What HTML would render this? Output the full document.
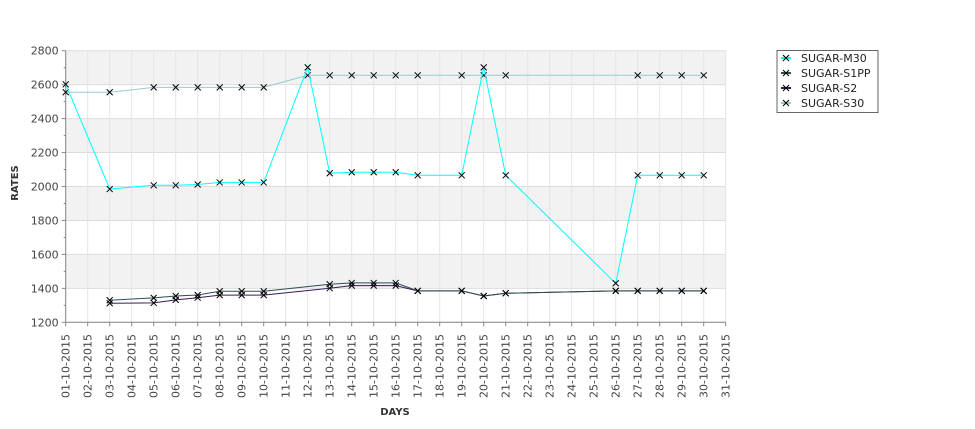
<!DOCTYPE html>
<html><head><meta charset="utf-8"><style>
html,body{margin:0;padding:0;background:#fff;}
svg{display:block;font-family:"DejaVu Sans","Liberation Sans",sans-serif;}
</style></head><body>
<svg id="chart" width="975" height="429" viewBox="0 0 975 429" xmlns="http://www.w3.org/2000/svg">
<g id="bands"></g><g id="grid"></g><g id="axes"></g><g id="series"></g>
<text x="0" y="0" transform="translate(18,183) rotate(-90)" text-anchor="middle" font-size="10" font-weight="bold" fill="#333">RATES</text>
<text x="395" y="415" text-anchor="middle" font-size="10" font-weight="bold" fill="#333">DAYS</text>
<g>
<rect x="777" y="50.5" width="101" height="62" fill="#fff" stroke="#666"/>
<g id="legend-items"></g>
</g>
</svg>
<script>
const yTicks = [1200,1400,1600,1800,2000,2200,2400,2600,2800];
const dayLabels = ["01-10-2015","02-10-2015","03-10-2015","04-10-2015","05-10-2015","06-10-2015","07-10-2015","08-10-2015","09-10-2015","10-10-2015","11-10-2015","12-10-2015","13-10-2015","14-10-2015","15-10-2015","16-10-2015","17-10-2015","18-10-2015","19-10-2015","20-10-2015","21-10-2015","22-10-2015","23-10-2015","24-10-2015","25-10-2015","26-10-2015","27-10-2015","28-10-2015","29-10-2015","30-10-2015","31-10-2015"];
const seriesNames = ["SUGAR-M30","SUGAR-S1PP","SUGAR-S2","SUGAR-S30"];
const m30Days = [1,3,5,6,7,8,9,10,12,13,14,15,16,17,19,20,21,26,27,28,29,30];
const m30Vals = [2602,1985,2007,2007,2012,2024,2024,2024,2702,2078,2084,2084,2084,2066,2066,2702,2066,1430,2066,2066,2066,2066];
const s1ppDays = [3,5,6,7,8,9,10,13,14,15,16,17,19,20,21,26,27,28,29,30];
const s1ppVals = [1330,1344,1355,1361,1383,1383,1383,1424,1432,1432,1432,1385,1385,1355,1371,1385,1385,1385,1385,1385];
const s2Days = [3,5,6,7,8,9,10,13,14,15,16,17,19,20,21,26,27,28,29,30];
const s2Vals = [1312,1314,1332,1345,1360,1360,1360,1401,1416,1416,1416,1385,1385,1355,1371,1385,1385,1385,1385,1385];
const s30Days = [1,3,5,6,7,8,9,10,12,13,14,15,16,17,19,20,21,27,28,29,30];
const s30Vals = [2555,2555,2584,2584,2584,2584,2584,2584,2655,2655,2655,2655,2655,2655,2655,2655,2655,2655,2655,2655,2655];

const NS="http://www.w3.org/2000/svg";
const X0=65.7,X1=725.7,Y0=322.3,Y1=50.7;
const xS=d=>X0+(d-1)*(X1-X0)/30;
const yS=v=>Y0-(v-1200)*(Y0-Y1)/1600;
function mk(tag,attrs,parent){const e=document.createElementNS(NS,tag);for(const k in attrs)e.setAttribute(k,attrs[k]);parent.appendChild(e);return e;}
const bands=document.getElementById('bands'),grid=document.getElementById('grid'),axes=document.getElementById('axes'),ser=document.getElementById('series');
for(let i=0;i<yTicks.length-1;i++){
  const top=yS(yTicks[i+1]),bot=yS(yTicks[i]);
  const r=mk('rect',{x:X0,y:top,width:X1-X0,height:bot-top,fill:(i%2===0)?'#ffffff':'#f2f2f2'},bands);
  
  
}
yTicks.forEach(v=>{
  const l=mk('line',{x1:X0,x2:X1,y1:yS(v),y2:yS(v),stroke:'#dddddd'},grid);
  
  
  mk('line',{x1:X0-4,x2:X0,y1:yS(v),y2:yS(v),stroke:'#888'},axes);
  const t=mk('text',{x:X0-7,y:yS(v)+4,'text-anchor':'end','font-size':'11',fill:'#444'},axes);
  t.textContent=v;
  
  
});
for(let v=1300;v<2800;v+=200){mk('line',{x1:X0-2,x2:X0,y1:yS(v),y2:yS(v),stroke:'#888'},axes);}
dayLabels.forEach((lab,i)=>{
  const x=xS(i+1);
  const l=mk('line',{x1:x,x2:x,y1:Y1,y2:Y0,stroke:'#e4e4e4'},grid);
  
  
  mk('line',{x1:x,x2:x,y1:Y0,y2:Y0+4,stroke:'#888'},axes);
  const t=mk('text',{x:0,y:0,transform:`translate(${x+4},334) rotate(-90)`,'text-anchor':'end','font-size':'11',fill:'#444'},axes);
  t.textContent=lab;
  
  
});
mk('line',{x1:X0,x2:X0,y1:Y1,y2:Y0,stroke:'#888'},axes);
mk('line',{x1:X0,x2:X1,y1:Y0,y2:Y0,stroke:'#888'},axes);
const colors=['#00ffff','#2f4f4f','#3a1a5a','#99cccc'];
const data=[[m30Days,m30Vals],[s1ppDays,s1ppVals],[s2Days,s2Vals],[s30Days,s30Vals]];
function cross(g,x,y){mk('path',{d:`M${x-3},${y-3}L${x+3},${y+3}M${x-3},${y+3}L${x+3},${y-3}`,stroke:'#000','stroke-width':'1'},g);}
[3,0,2,1].forEach(si=>{
  const [ds,vs]=data[si];
  const g=mk('g',{},ser);
  
  
  const pts=ds.map((d,i)=>xS(d).toFixed(1)+','+yS(vs[i]).toFixed(1)).join(' ');
  mk('polyline',{points:pts,fill:'none',stroke:colors[si],'stroke-width':'1'},g);
  ds.forEach((d,i)=>{cross(g,xS(d),yS(vs[i]));});
});
const li=document.getElementById('legend-items');
seriesNames.forEach((n,i)=>{
  const y=58+i*15;
  const g=mk('g',{},li);
  
  
  mk('line',{x1:781,x2:791,y1:y,y2:y,stroke:colors[i],'stroke-width':'2'},g);
  cross(g,786,y);
  const t=mk('text',{x:801,y:y+4,'font-size':'11',fill:'#222'},g);
  t.textContent=n;
});
</script>
</body></html>
